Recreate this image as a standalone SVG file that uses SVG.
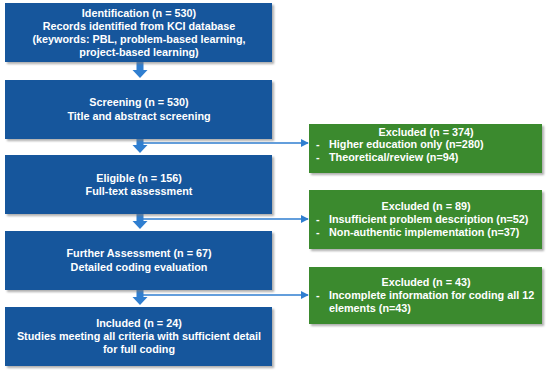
<svg xmlns="http://www.w3.org/2000/svg" width="550" height="373" viewBox="0 0 550 373">
<style>
.blue{fill:#12579C;filter:url(#sh)}
.green{fill:#3B8A2F;filter:url(#sh)}
text{font-family:"Liberation Sans",Arial,sans-serif;font-weight:bold;font-size:10.8px;fill:#fff}
.c{text-anchor:middle}
.conn{stroke:#2F7ED0;stroke-width:1.6;fill:none;marker-end:url(#ah)}
.barrow{fill:#2F7ED0}
</style>
<defs>
<filter id="sh" x="-5%" y="-10%" width="112%" height="125%">
<feDropShadow dx="2" dy="2" stdDeviation="1.2" flood-color="#777" flood-opacity="0.6"/>
</filter>
<marker id="ah" viewBox="0 0 10 10" refX="9" refY="5" markerWidth="5" markerHeight="5" orient="auto" markerUnits="strokeWidth">
<path d="M0,0 L10,5 L0,10 z" fill="#2F7ED0"/>
</marker>
</defs>
<rect width="550" height="373" fill="#fff"/>
<g id="connectors">
<path class="barrow" d="M136.5,62 H143.5 V70 H147.5 L140,78 L132.5,70 H136.5 Z"/>
<path class="barrow" d="M136.5,139 H143.5 V145 H147.5 L140,153 L132.5,145 H136.5 Z"/>
<path class="barrow" d="M136.5,214 H143.5 V221 H147.5 L140,229 L132.5,221 H136.5 Z"/>
<path class="barrow" d="M136.5,290 H143.5 V297 H147.5 L140,305 L132.5,297 H136.5 Z"/>
<line class="conn" x1="143" y1="143" x2="308" y2="143"/>
<line class="conn" x1="143" y1="219" x2="308" y2="219"/>
<line class="conn" x1="143" y1="295" x2="308" y2="295"/>
</g>
<g id="identification">
<rect class="blue" x="5" y="3" width="267" height="59"/>
<text class="c" x="139" y="17">Identification (n = 530)</text>
<text class="c" x="139" y="30">Records identified from KCI database</text>
<text class="c" x="139" y="43">(keywords: PBL, problem-based learning,</text>
<text class="c" x="139" y="56">project-based learning)</text>
</g>
<g id="screening">
<rect class="blue" x="5" y="80" width="267" height="59"/>
<text class="c" x="139" y="106">Screening (n = 530)</text>
<text class="c" x="139" y="119.5">Title and abstract screening</text>
</g>
<g id="eligible">
<rect class="blue" x="5" y="155" width="267" height="59"/>
<text class="c" x="139" y="182">Eligible (n = 156)</text>
<text class="c" x="139" y="195">Full-text assessment</text>
</g>
<g id="further">
<rect class="blue" x="5" y="231" width="267" height="59"/>
<text class="c" x="139" y="257">Further Assessment (n = 67)</text>
<text class="c" x="139" y="271">Detailed coding evaluation</text>
</g>
<g id="included">
<rect class="blue" x="5" y="307" width="267" height="59"/>
<text class="c" x="139" y="327">Included (n = 24)</text>
<text class="c" x="139" y="340">Studies meeting all criteria with sufficient detail</text>
<text class="c" x="139" y="353">for full coding</text>
</g>
<g id="excluded1">
<rect class="green" x="309" y="124" width="233" height="49"/>
<text class="c" x="426" y="135.5">Excluded (n = 374)</text>
<text x="316" y="148">-</text>
<text x="329" y="148">Higher education only (n=280)</text>
<text x="316" y="160.5">-</text>
<text x="329" y="160.5">Theoretical/review (n=94)</text>
</g>
<g id="excluded2">
<rect class="green" x="309" y="190" width="233" height="59"/>
<text class="c" x="426" y="210">Excluded (n = 89)</text>
<text x="316" y="223">-</text>
<text x="329" y="223">Insufficient problem description (n=52)</text>
<text x="316" y="236">-</text>
<text x="329" y="236">Non-authentic implementation (n=37)</text>
</g>
<g id="excluded3">
<rect class="green" x="309" y="267" width="233" height="57"/>
<text class="c" x="426" y="286">Excluded (n = 43)</text>
<text x="316" y="299">-</text>
<text x="329" y="299">Incomplete information for coding all 12</text>
<text x="329" y="311.5">elements (n=43)</text>
</g>
</svg>
